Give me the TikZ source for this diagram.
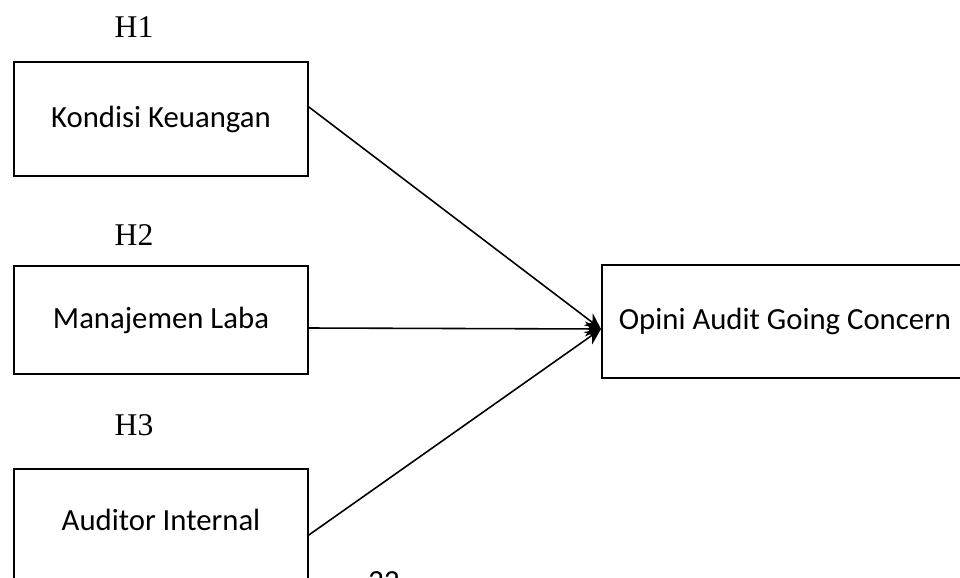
\documentclass[tikz,border=0pt]{standalone}
\usepackage{fontspec}
\setmainfont{Liberation Serif}
\newfontfamily\boxfont{Carlito}
\usetikzlibrary{arrows.meta}
\tikzset{
  box/.style={draw=black, line width=1pt, rectangle, inner sep=0pt, font=\boxfont\fontsize{17.5}{21}\selectfont},
  hlabel/.style={inner sep=0pt, font=\fontsize{18}{21}\selectfont},
  link/.style={draw=black, line width=0.9pt, -{Stealth[length=0.32cm, width=0.3cm]}}
}
\begin{document}
\begin{tikzpicture}[x=0.02cm, y=-0.02cm]
\useasboundingbox (0,0) rectangle (960,578);
\clip (0,0) rectangle (960,578);
\node[box, minimum width=5.88cm, minimum height=2.28cm] (kk) at (161,119) {Kondisi Keuangan};
\node[box, minimum width=5.88cm, minimum height=2.16cm] (ml) at (161,320) {Manajemen Laba};
\node[box, minimum width=5.88cm, minimum height=2.3cm] (ai) at (161,526.5) {};
\node[inner sep=0pt, font=\boxfont\fontsize{17.5}{21}\selectfont] (ait) at (161,520) {Auditor Internal};
\node[box, minimum width=7.32cm, minimum height=2.26cm] (og) at (785,321.5) {Opini Audit Going Concern};
\node[hlabel] (h1) at (134,27) {H1};
\node[hlabel] (h2) at (134,235) {H2};
\node[hlabel] (h3) at (134,425) {H3};
\node[inner sep=0pt, anchor=north, font=\boxfont\fontsize{17.5}{21}\selectfont] (pg) at (384,571) {22};
\coordinate (e) at (601,329);
\draw[link] (kk.east |- 0,107) -- (e);
\draw[link] (ml.east |- 0,328) -- (e);
\draw[link] (ai.east |- 0,535) -- (e);
\end{tikzpicture}
\end{document}
